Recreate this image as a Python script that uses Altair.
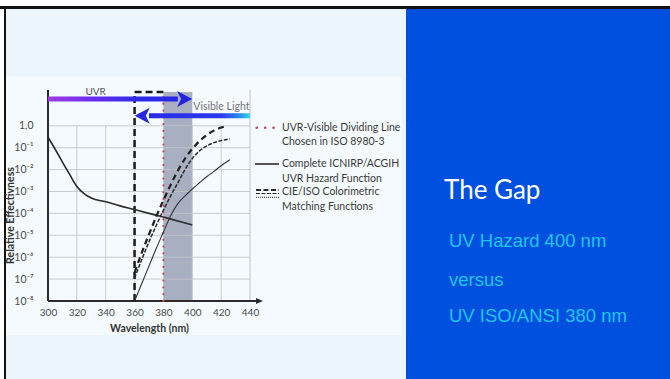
import altair as alt
import pandas as pd

# ---------------- data ----------------
x_ticks = [300, 320, 340, 360, 380, 400, 420, 440]
y_ticks = [1e-8, 1e-7, 1e-6, 1e-5, 1e-4, 1e-3, 1e-2, 1e-1, 1.0]
y_tick_labels = ["10⁻⁸", "10⁻⁷", "10⁻⁶", "10⁻⁵", "10⁻⁴", "10⁻³", "10⁻²", "10⁻¹", "1,0"]
grid_x = [320, 340, 360, 380, 400, 420]

x_domain = [300, 440]
y_domain = [1e-8, 43]

# ICNIRP/ACGIH UV hazard function
hazard_wl = [300, 305, 310, 315, 320, 325, 330, 340, 350, 360, 370, 380, 390, 400]
hazard_eff = [0.30, 0.085, 0.022, 0.006, 0.0017, 0.0008, 5.0e-4, 3.4e-4, 2.2e-4,
              1.5e-4, 1.0e-4, 6.8e-5, 4.5e-5, 3.0e-5]

# CIE/ISO colorimetric matching functions
cie_upper_wl = [360, 365, 370, 375, 380, 385, 390, 395, 400, 405, 410, 415, 420, 424]
cie_upper = [2.0e-7, 1.6e-6, 1.1e-5, 7.1e-5, 4.0e-4, 2.0e-3, 8.9e-3, 3.2e-2, 8.9e-2,
             0.20, 0.38, 0.60, 0.83, 1.0]
cie_wl = [360, 365, 370, 375, 380, 385, 390, 395, 400, 405, 410, 415, 420, 426]
cie_middle = [1.1e-7, 7.9e-7, 5.0e-6, 2.8e-5, 1.4e-4, 6.3e-4, 2.5e-3, 1.0e-2, 3.2e-2,
              7.1e-2, 0.12, 0.17, 0.21, 0.25]
cie_lower = [1.0e-8, 6.3e-8, 4.0e-7, 2.5e-6, 1.4e-5, 7.9e-5, 2.8e-4, 6.3e-4, 1.3e-3,
             2.5e-3, 4.7e-3, 8.3e-3, 1.5e-2, 2.8e-2]

visible_start = 360      # start of the "Visible Light" arrow / dashed boundary
uvr_visible_line = 380   # ISO 8980-3 dividing line
hazard_edge = 400        # end of the UV hazard band
band_top = 35            # top of the dashed box and grey band
axis_end = 449           # x-axis arrow tip

legend_lines = [
    "UVR-Visible Dividing Line", "Chosen in ISO 8980-3",
    "Complete ICNIRP/ACGIH", "UVR Hazard Function",
    "CIE/ISO Colorimetric", "Matching Functions",
]
side_title = "The Gap"
side_lines = ["UV Hazard 400 nm", "versus", "UV ISO/ANSI 380 nm"]

# ---------------- styling ----------------
FONT = "Lato"
INK = "#2b2b2b"
GRID = "#bfc4c9"
BLUE_PANEL = "#0050e0"
CYAN = "#1ec6f2"

x_scale = alt.Scale(domain=x_domain, nice=False, zero=False)
y_scale = alt.Scale(type="log", domain=y_domain, nice=False)

label_expr = "[" + ",".join("'%s'" % s for s in y_tick_labels) + "][round(log(datum.value)/LN10)+8]"

x_axis = alt.Axis(values=x_ticks, grid=False, domain=False, ticks=False, tickSize=0,
                  labelFont=FONT, labelFontSize=10, labelColor="#4a4a4a", labelPadding=6,
                  labelFlush=False, labelOverlap=False, zindex=1,
                  titleFont=FONT, titleFontSize=10.5, titleFontWeight="bold",
                  titleColor="#333333", titleY=27, titleBaseline="middle")
y_axis = alt.Axis(values=y_ticks, labelExpr=label_expr, grid=False, domain=False,
                  ticks=False, tickSize=0, labelFont=FONT, labelFontSize=10.5,
                  labelColor="#4a4a4a", labelPadding=15, labelFlush=False,
                  labelOverlap=False, zindex=1, titleFont=FONT, titleFontSize=10.5,
                  titleFontWeight="bold", titleColor="#333333", titleAngle=-90,
                  titleX=-38, titleY=125, titleAlign="center", titleBaseline="middle")

X_TITLE = "Wavelength (nm)"
Y_TITLE = "Relative Effectivness"


def X(field="wl"):
    return alt.X(f"{field}:Q", scale=x_scale, axis=x_axis, title=X_TITLE)


def Y(field="eff"):
    return alt.Y(f"{field}:Q", scale=y_scale, axis=y_axis, title=Y_TITLE)


one = pd.DataFrame({"k": [0]})


def px_rect(x0, x1, y0, y1, color):
    return alt.Chart(one).mark_rect(color=color).encode(
        x=alt.value(x0), x2=alt.value(x1), y=alt.value(y0), y2=alt.value(y1))


def px_text(txt, x, y, size, color, font=FONT, weight="normal", baseline="middle"):
    return alt.Chart(one).mark_text(
        text=txt, font=font, fontSize=size, color=color, fontWeight=weight,
        align="left", baseline=baseline).encode(x=alt.value(x), y=alt.value(y))


def px_rule(x0, x1, y, width, color, dash=None, cap="butt"):
    kw = dict(color=color, strokeWidth=width, strokeCap=cap)
    if dash:
        kw["strokeDash"] = dash
    return alt.Chart(one).mark_rule(**kw).encode(
        x=alt.value(x0), x2=alt.value(x1), y=alt.value(y))


# ---------------- slide background ----------------
background = [
    px_rect(-42, 358, -81, 289, "#edf5fc"),     # left slide panel
    px_rect(-42, 354, -13, 245, "#f4fafd"),     # chart image area
    px_rect(358, 622, -81, 289, BLUE_PANEL),    # right blue panel
    px_rect(-48, 622, -84, -81, "#111111"),     # top border
    px_rect(-44, -42, -84, 289, "#111111"),     # left border
]

# ---------------- plot ----------------
band = alt.Chart(pd.DataFrame({"wl": [uvr_visible_line], "wl2": [hazard_edge],
                               "eff": [y_domain[0]], "eff2": [band_top]})).mark_rect(
    color="#a8afc1").encode(x=X(), x2="wl2:Q", y=Y(), y2="eff2:Q")

grid_v = alt.Chart(pd.DataFrame({"wl": grid_x, "eff": [y_domain[0]] * len(grid_x),
                                 "eff2": [1.0] * len(grid_x)})).mark_rule(
    color=GRID, strokeWidth=1, opacity=0.85).encode(x=X(), y=Y(), y2="eff2:Q")

right_edge = alt.Chart(pd.DataFrame({"wl": [x_domain[1]], "eff": [y_domain[0]],
                                     "eff2": [y_domain[1]]})).mark_rule(
    color=GRID, strokeWidth=1).encode(x=X(), y=Y(), y2="eff2:Q")

grid_h = alt.Chart(pd.DataFrame({"eff": y_ticks, "wl": [x_domain[0]] * len(y_ticks),
                                 "wl2": [x_domain[1]] * len(y_ticks)})).mark_rule(
    color=GRID, strokeWidth=1, opacity=0.85).encode(x=X(), x2="wl2:Q", y=Y())

y_line = alt.Chart(pd.DataFrame({"wl": [x_domain[0]], "eff": [y_domain[0]],
                                 "eff2": [y_domain[1]]})).mark_rule(
    color=INK, strokeWidth=2).encode(x=X(), y=Y(), y2="eff2:Q")

x_line = alt.Chart(pd.DataFrame({"wl": [x_domain[0]], "wl2": [axis_end - 3],
                                 "eff": [y_domain[0]]})).mark_rule(
    color=INK, strokeWidth=2).encode(x=X(), x2="wl2:Q", y=Y())

x_head = alt.Chart(pd.DataFrame({"wl": [axis_end], "eff": [y_domain[0]]})).mark_point(
    shape="M-2.3,-1L0,0L-2.3,1Z", size=36, filled=True, opacity=1, color=INK,
    strokeWidth=0).encode(x=X(), y=Y())

box_v = alt.Chart(pd.DataFrame({"wl": [visible_start], "eff": [y_domain[0]],
                                "eff2": [band_top]})).mark_rule(
    color="#1a1a1a", strokeWidth=2.5, strokeDash=[7, 4]).encode(x=X(), y=Y(), y2="eff2:Q")

box_h = alt.Chart(pd.DataFrame({"wl": [visible_start], "wl2": [uvr_visible_line],
                                "eff": [band_top]})).mark_rule(
    color="#1a1a1a", strokeWidth=2.5, strokeDash=[7, 4]).encode(x=X(), x2="wl2:Q", y=Y())

red_line = alt.Chart(pd.DataFrame({"wl": [uvr_visible_line], "eff": [y_domain[0]],
                                   "eff2": [band_top]})).mark_rule(
    color="#cc4466", strokeWidth=2.2, strokeDash=[0.1, 6.7], strokeCap="round").encode(
    x=X(), y=Y(), y2="eff2:Q")

hazard = alt.Chart(pd.DataFrame({"wl": hazard_wl, "eff": hazard_eff})).mark_line(
    color=INK, strokeWidth=1.6, interpolate="monotone").encode(x=X(), y=Y())

upper = alt.Chart(pd.DataFrame({"wl": cie_upper_wl, "eff": cie_upper})).mark_line(
    color="#1f1f1f", strokeWidth=2.2, strokeDash=[6, 4], interpolate="monotone").encode(
    x=X(), y=Y())
middle = alt.Chart(pd.DataFrame({"wl": cie_wl, "eff": cie_middle})).mark_line(
    color="#2a2a2a", strokeWidth=1.5, strokeDash=[4, 1.5], interpolate="monotone").encode(
    x=X(), y=Y())
lower = alt.Chart(pd.DataFrame({"wl": cie_wl, "eff": cie_lower})).mark_line(
    color="#333333", strokeWidth=1.1, interpolate="monotone").encode(x=X(), y=Y())

# ---------------- UVR / visible arrows ----------------
uvr_grad = {"gradient": "linear", "x1": 0, "x2": 1, "y1": 0, "y2": 0,
            "stops": [{"offset": 0, "color": "#a03ce0"},
                      {"offset": 0.35, "color": "#6a2cf0"},
                      {"offset": 0.7, "color": "#2e2ae8"},
                      {"offset": 1, "color": "#2626e2"}]}
vis_grad = {"gradient": "linear", "x1": 0, "x2": 1, "y1": 0, "y2": 0,
            "stops": [{"offset": 0, "color": "#2a2ae6"},
                      {"offset": 0.72, "color": "#2c3af0"},
                      {"offset": 0.9, "color": "#2a8cf0"},
                      {"offset": 1, "color": "#3ad8e8"}]}

uvr_shaft = alt.Chart(pd.DataFrame({"wl": [x_domain[0]], "wl2": [390]})).mark_rect(
    fill=uvr_grad).encode(x=X(), x2="wl2:Q", y=alt.value(6.5), y2=alt.value(11.5))
uvr_head = alt.Chart(pd.DataFrame({"wl": [hazard_edge]})).mark_point(
    shape="M-1.9,-1L0,0L-1.9,1L-1.4,0Z", size=256, filled=True, opacity=1,
    color="#2424e0", strokeWidth=0).encode(x=X(), y=alt.value(9))

vis_shaft = alt.Chart(pd.DataFrame({"wl": [370], "wl2": [x_domain[1]]})).mark_rect(
    fill=vis_grad).encode(x=X(), x2="wl2:Q", y=alt.value(23.2), y2=alt.value(28.2))
vis_head = alt.Chart(pd.DataFrame({"wl": [visible_start]})).mark_point(
    shape="M1.9,-1L0,0L1.9,1L1.4,0Z", size=256, filled=True, opacity=1,
    color="#2828e2", strokeWidth=0).encode(x=X(), y=alt.value(25.7))

uvr_label = alt.Chart(pd.DataFrame({"wl": [333]})).mark_text(
    text="UVR", font=FONT, fontSize=10, color="#555555", baseline="middle").encode(
    x=X(), y=alt.value(1.5))
vis_label = alt.Chart(pd.DataFrame({"wl": [hazard_edge]})).mark_text(
    text="Visible Light", font=FONT, fontSize=10.5, color="#777777", align="left",
    baseline="middle", dx=1).encode(x=X(), y=alt.value(16.5))

# ---------------- legend ----------------
legend = [
    px_rule(208.7, 226, 37.7, 2.6, "#cc4466", dash=[0.1, 8.3], cap="round"),
    px_rule(207, 231, 74, 1.6, INK),
    px_rule(208, 231, 100, 2, INK, dash=[5, 2.5]),
    px_rule(208, 231, 103.5, 1.2, INK, dash=[4, 1.5]),
    px_rule(208, 231, 107.3, 1, INK, dash=[1, 1]),
]
legend_y = [37.7, 51.7, 74, 89, 101.7, 117.3]
for txt, yy in zip(legend_lines, legend_y):
    legend.append(px_text(txt, 234, yy, 10.5, "#3a3a3a"))

# ---------------- side panel text ----------------
side = [px_text(side_title, 396, 109, 26, "#ffffff", baseline="alphabetic")]
for txt, yy in zip(side_lines, [156.7, 195.5, 232.3]):
    side.append(px_text(txt, 401, yy, 18.5, CYAN, font="Liberation Sans",
                        baseline="alphabetic"))

chart = alt.layer(
    *background, band, grid_v, grid_h, right_edge, y_line, x_line, x_head,
    box_v, box_h, red_line, hazard, upper, middle, lower,
    uvr_shaft, uvr_head, vis_shaft, vis_head, uvr_label, vis_label,
    *legend, *side,
).properties(
    width=202, height=211,
    padding={"left": 48, "top": 90, "right": 420, "bottom": 78},
    autosize=alt.AutoSizeParams(type="none"),
    background="#ffffff",
).configure_view(stroke=None)

chart.save("out.html", embed_options={"renderer": "svg", "actions": False})
